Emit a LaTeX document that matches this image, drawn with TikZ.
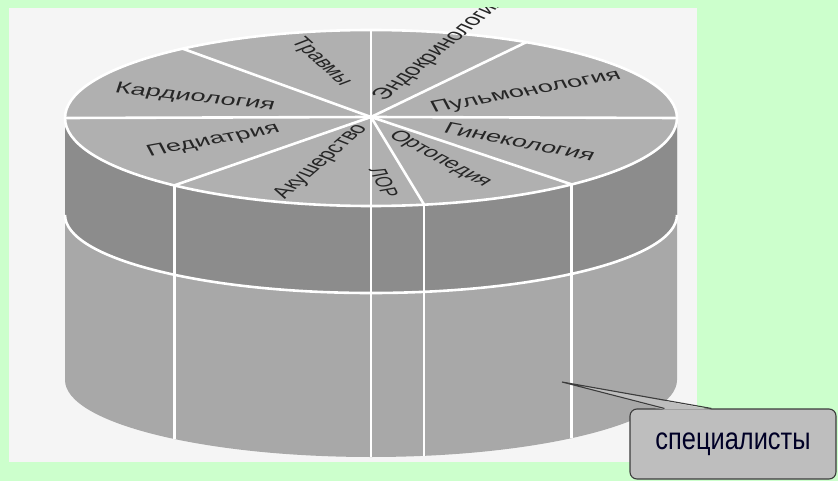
\documentclass[tikz,border=0pt]{standalone}
\usepackage{fontspec}
\usepackage{graphicx}
\setmainfont{Liberation Sans}
\definecolor{bggreen}{HTML}{CCFFCC}
\definecolor{photo}{HTML}{F5F5F5}
\definecolor{topgray}{HTML}{B0B0B0}
\definecolor{bandgray}{HTML}{8C8C8C}
\definecolor{sidegray}{HTML}{A8A8A8}
\definecolor{labeltext}{HTML}{262626}
\definecolor{calloutfill}{HTML}{BEBEBE}
\definecolor{calloutedge}{HTML}{3C3C3C}
\begin{document}
\begin{tikzpicture}[x=1pt,y=-1pt,
  spoke/.style={draw=white, line width=2.6pt},
  lbl/.style={inner sep=0pt, text=labeltext, font=\fontsize{16}{16}\selectfont, transform shape},
  callbox/.style={draw=calloutedge, fill=calloutfill, line width=1.1pt, rounded corners=7pt,
    minimum width=206pt, minimum height=70pt, inner sep=0pt, text=black!85!blue,
    font=\fontsize{31}{31}\selectfont},
  calloutline/.style={draw=calloutedge, line width=1.1pt},
]
\useasboundingbox (0,0) rectangle (838,481);
\fill[bggreen] (0,0) rectangle (838,481);
\begin{scope}
  \clip (9,8) rectangle (697,462);
  \fill[photo] (9,8) rectangle (697,462);
  % cylinder lower side (silhouette)
  \fill[sidegray] (65,118) -- (65,380)
     arc[start angle=180, end angle=360, x radius=306pt, y radius=77pt]
     -- (677,118)
     arc[start angle=0, end angle=180, x radius=306pt, y radius=88pt] -- cycle;
  % dark band
  \fill[bandgray] (65,118)
     arc[start angle=180, end angle=360, x radius=306pt, y radius=88pt]
     -- (677,215)
     arc[start angle=0, end angle=-180, x radius=306pt, y radius=78pt] -- cycle;
  \draw[spoke] (677,215) arc[start angle=0, end angle=-180, x radius=306pt, y radius=78pt];
  % vertical white lines on the side
  \foreach \t in {-130,-90,-80,-49}
    \draw[spoke] ({371+306*cos(\t)},{118-88*sin(\t)}) -- ({371+306*cos(\t)},{380-77*sin(\t)});
  % top
  \fill[topgray] (371,118) ellipse [x radius=306pt, y radius=88pt];
  \draw[spoke] (371,118) ellipse [x radius=306pt, y radius=88pt];
  \coordinate (hub) at (371,117);
  \foreach \t in {90,59.5,0,-49,-80,-90,-130,180,128}
    \draw[spoke] (hub) -- ({371+306*cos(\t)},{118-88*sin(\t)});
  % labels (picture is stretched horizontally)
  \begin{scope}[xscale=1.7]
    \node[lbl, rotate=-10.8] (kard) at ({195/1.7},97.5) {Кардиология};
    \node[lbl, rotate=17.2] (ped) at ({213.5/1.7},140.7) {Педиатрия};
    \node[lbl, rotate=-56.7, font=\fontsize{15}{15}\selectfont] (trav) at ({321/1.7},62) {Травмы};
    \node[lbl, rotate=54.3, anchor=west] (endo) at ({379/1.7},99) {Эндокринология};
    \node[lbl, rotate=17.2] (pulm) at ({526/1.7},92) {Пульмонология};
    \node[lbl, rotate=-17.7] (gin) at ({520/1.7},141.7) {Гинекология};
    \node[lbl, rotate=-42.3, font=\fontsize{15}{15}\selectfont] (orto) at ({440/1.7},159) {Ортопедия};
    \node[lbl, rotate=-72.7, font=\fontsize{14}{14}\selectfont] (lor) at ({384/1.7},182.5) {ЛОР};
    \node[lbl, rotate=55.6, font=\fontsize{15.5}{15.5}\selectfont] (akush) at ({321/1.7},161.7) {Акушерство};
  \end{scope}
\end{scope}
% callout
\node[callbox] (spec) at (733,444) {\scalebox{0.82}[1]{специалисты}};
\coordinate (tip) at (562,382);
\coordinate (base1) at ([xshift=35pt]spec.north west);
\coordinate (base2) at ([xshift=82pt]spec.north west);
\fill[calloutfill] (tip) -- ([yshift=-1.2pt]base1) -- ([yshift=-1.2pt]base2) -- cycle;
\draw[calloutline] (base1) -- (tip) -- (base2);
\end{tikzpicture}
\end{document}
